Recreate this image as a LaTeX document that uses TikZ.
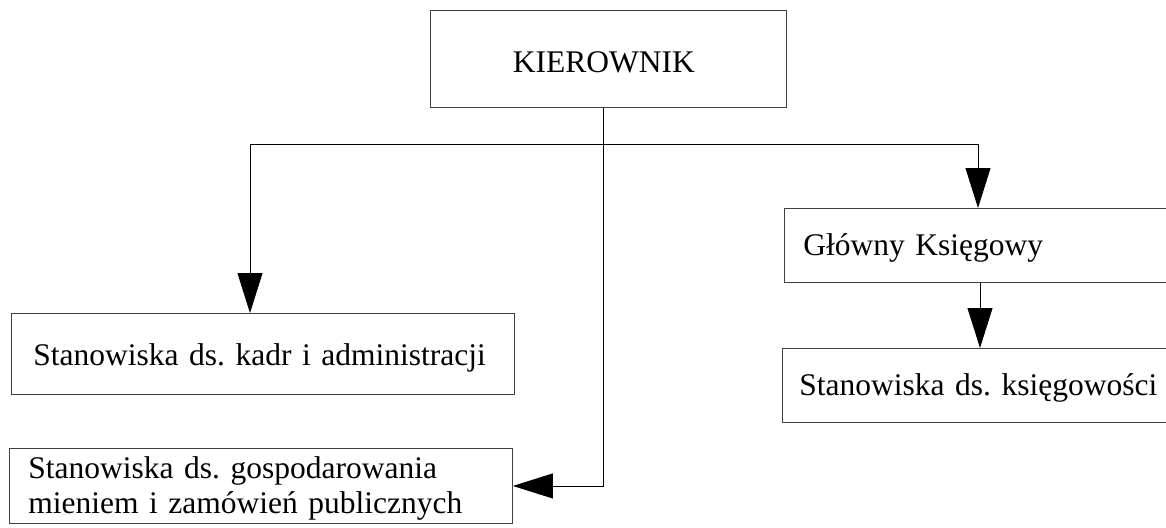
\documentclass[tikz,border=0pt]{standalone}
\usepackage{fontspec}
\setmainfont{Liberation Serif}
\usetikzlibrary{arrows.meta}
\tikzset{
  box/.style={draw=black!75, line width=0.9pt, anchor=north west, inner ysep=0pt,
    font=\fontsize{31.5}{35}\selectfont\frenchspacing},
  conn/.style={draw=black, line width=0.9pt},
  arr/.style={conn, -{Triangle[length=40pt,width=25pt]}}
}
\begin{document}
\begin{tikzpicture}[x=1pt,y=-1pt]
\useasboundingbox (0,0) rectangle (1166,527);
\clip (0,0) rectangle (1166,527);
\node[box, text width=356pt, inner xsep=0pt, align=center, minimum height=97pt, text height=27pt, text depth=0pt] (k) at (430,10) {\hspace*{-9pt}KIEROWNIK};
\node[box, text width=459pt, inner xsep=22pt, align=left, minimum height=81pt, text height=28pt, text depth=5pt] (b2) at (11,313) {\mbox{Stanowiska ds. kadr i administracji}};
\node[box, text width=465pt, inner xsep=19pt, align=left, minimum height=75pt, text height=25pt, text depth=40pt] (b3) at (9,448) {Stanowiska ds. gospodarowania\\mieniem i zamówień publicznych};
\node[box, text width=400pt, inner xsep=19pt, align=left, minimum height=74pt, text height=25pt, text depth=5pt] (gk) at (784,208) {\mbox{Główny Księgowy}};
\node[box, text width=400pt, inner xsep=17pt, align=left, minimum height=74pt, text height=25pt, text depth=5pt] (sk) at (782,348) {\mbox{Stanowiska ds. księgowości}};
\coordinate (kx) at (603,0);
\coordinate (jl) at (250,144);
\coordinate (jr) at (978,144);
\coordinate (gx) at (980,0);
\draw[arr] (k.south -| kx) |- (b3.east);
\draw[conn] (jl) -- (jr);
\draw[arr] (jl) -- (jl |- b2.north);
\draw[arr] (jr) -- (jr |- gk.north);
\draw[arr] (gk.south -| gx) -- (sk.north -| gx);
\end{tikzpicture}
\end{document}
